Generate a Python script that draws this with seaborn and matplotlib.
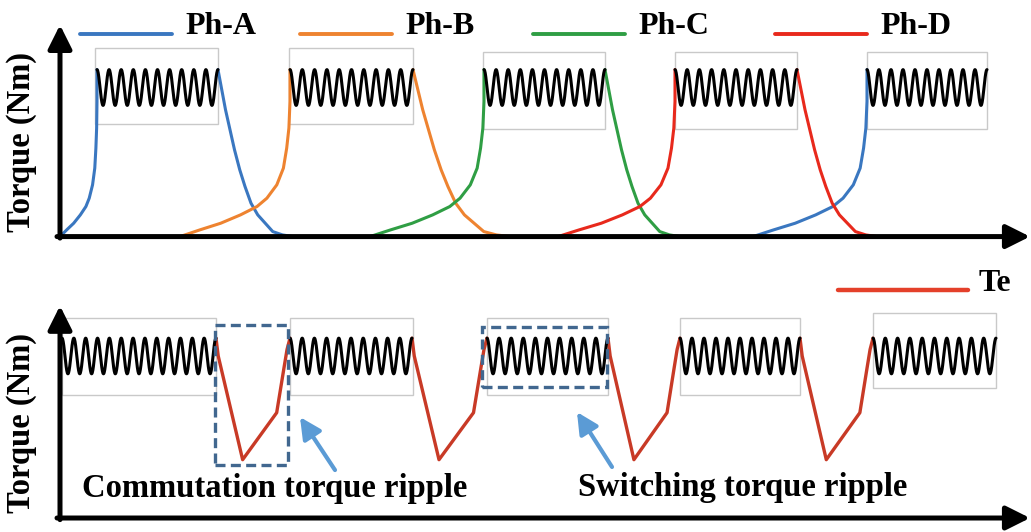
import numpy as np
import pandas as pd
import seaborn as sns
import matplotlib.pyplot as plt
from matplotlib.patches import Rectangle

# ---- data ----
phases = ["Ph-A", "Ph-B", "Ph-C", "Ph-D"]
phase_colors = ["#3a77c0", "#ee8330", "#2f9e44", "#e8291c"]

# top panel: phase torque (position in arbitrary angle units, torque in p.u.)
top_flat_start = [97, 290, 484, 675, 867]
top_flat_end = [218, 413, 605, 797, 987]
rise_start = [60, 180, 370, 558, 753]
fall_end = [293, 510, 680, 877]
rise_phase = ["Ph-A", "Ph-B", "Ph-C", "Ph-D", "Ph-A"]
fall_phase = ["Ph-A", "Ph-B", "Ph-C", "Ph-D"]

# normalised shapes of the rising / falling phase current edges
rise_x = [0, .18, .37, .55, .70, .79, .88, .94, .97, .99, 1.0, 1.0]
rise_y = [0, .04, .08, .13, .18, .23, .31, .41, .53, .65, .81, 1.0]
fall_x = [0, .05, .10, .16, .22, .29, .36, .44, .53, .63, .73, .86, 1.0]
fall_y = [1, .88, .76, .64, .52, .40, .30, .20, .13, .08, .03, .01, 0]

# bottom panel: total torque Te
bot_flat_start = [62, 290, 487, 680, 873]
bot_flat_end = [216, 412, 608, 800, 996]
dip_x = [0, .03, .36, .82, .92, .96, 1.0]
dip_y = [1.11, 1.0, 0.36, 0.65, 0.93, 1.04, 1.11]

ripple_mean = 1.0
top_ripple_amp = 0.12
bot_ripple_amp = 0.11
ripple_pitch = 12  # position units per ripple cycle

# ---- layout ----
W, H = 1031, 532
top_boxes = [(95, 218, .752, 1.268), (289, 413, .752, 1.268), (483, 605, .725, 1.235),
             (675, 797, .725, 1.235), (867, 987, .725, 1.235)]
bot_boxes = [(62, 216, .759, 1.235), (290, 413, .759, 1.235), (487, 608, .759, 1.235),
             (680, 800, .759, 1.235), (873, 996, .802, 1.265)]

sns.set_theme(style="white")
plt.rcParams["font.family"] = ["Liberation Serif", "DejaVu Serif"]
plt.rcParams["text.color"] = "black"

fig = plt.figure(figsize=(W / 100, H / 100), dpi=100)
ax_top = fig.add_axes([0, 1 - 250 / H, 1, 240 / H])
ax_bot = fig.add_axes([0, 1 - 530 / H, 1, 262 / H])
ax_top.set_xlim(0, W)
ax_top.set_ylim(-0.09, 1.52)
ax_bot.set_xlim(0, W)
ax_bot.set_ylim(-0.074, 1.543)
for ax in (ax_top, ax_bot):
    ax.axis("off")


def ripple_rows(starts, ends, amp, seg0):
    rows = []
    for i, (s, e) in enumerate(zip(starts, ends)):
        n = max(1, round((e - s) / ripple_pitch))
        xs = np.linspace(s, e, 40 * n)
        ys = ripple_mean + amp * np.cos(2 * np.pi * n * (xs - s) / (e - s))
        rows += [dict(pos=x, torque=y, seg=seg0 + i) for x, y in zip(xs, ys)]
    return rows


top_peak = ripple_mean + top_ripple_amp

# phase edges
rows = []
seg = 0
for s, e, ph in zip(rise_start, top_flat_start, rise_phase):
    for fx, fy in zip(rise_x, rise_y):
        rows.append(dict(pos=s + fx * (e - s), torque=fy * top_peak, phase=ph, seg=seg))
    seg += 1
for s, e, ph in zip(top_flat_end, fall_end, fall_phase):
    for fx, fy in zip(fall_x, fall_y):
        rows.append(dict(pos=s + fx * (e - s), torque=fy * top_peak, phase=ph, seg=seg))
    seg += 1
df_phase = pd.DataFrame(rows)

for (x0, x1, y0, y1) in top_boxes:
    ax_top.add_patch(Rectangle((x0, y0), x1 - x0, y1 - y0, fill=False,
                               ec="#c9c9c9", lw=1.0, zorder=1))

sns.lineplot(data=df_phase, x="pos", y="torque", hue="phase", units="seg",
             estimator=None, sort=False, palette=dict(zip(phases, phase_colors)),
             lw=2.2, legend=False, ax=ax_top, zorder=3)
df_rip_top = pd.DataFrame(ripple_rows(top_flat_start, top_flat_end, top_ripple_amp, 0))
sns.lineplot(data=df_rip_top, x="pos", y="torque", units="seg", estimator=None,
             sort=False, color="black", lw=2.2, ax=ax_top, zorder=4)

# legend for phases
leg_line_x = [80, 300, 533, 775]
for ph, c, lx in zip(phases, phase_colors, leg_line_x):
    ax_top.plot([lx, lx + 92], [1.356, 1.356], color=c, lw=2.8, clip_on=False)
    ax_top.text(lx + 105, 1.41, ph, fontsize=23, fontweight="bold", va="center", ha="left")

# bottom: Te
rows = []
for i in range(len(bot_flat_end) - 1):
    s, e = bot_flat_end[i], bot_flat_start[i + 1]
    for fx, fy in zip(dip_x, dip_y):
        rows.append(dict(pos=s + fx * (e - s), torque=fy, seg=i))
df_dip = pd.DataFrame(rows)

for (x0, x1, y0, y1) in bot_boxes:
    ax_bot.add_patch(Rectangle((x0, y0), x1 - x0, y1 - y0, fill=False,
                               ec="#c9c9c9", lw=1.0, zorder=1))

sns.lineplot(data=df_dip, x="pos", y="torque", units="seg", estimator=None,
             sort=False, color="#c83a26", lw=2.4, ax=ax_bot, zorder=3)
df_rip_bot = pd.DataFrame(ripple_rows(bot_flat_start, bot_flat_end, bot_ripple_amp, 0))
sns.lineplot(data=df_rip_bot, x="pos", y="torque", units="seg", estimator=None,
             sort=False, color="black", lw=2.2, ax=ax_bot, zorder=4)

ax_bot.plot([838, 968], [1.407, 1.407], color="#e4402a", lw=3.2, clip_on=False)
ax_bot.text(979, 1.45, "Te", fontsize=23, fontweight="bold", va="center", ha="left")

# highlighted regions
dash_col = "#41678f"
ax_bot.add_patch(Rectangle((215, 0.327), 73, 0.864, fill=False, ec=dash_col, lw=2.4,
                           ls=(0, (3, 1.6)), zorder=5))
ax_bot.add_patch(Rectangle((482, 0.809), 125, 0.37, fill=False, ec=dash_col, lw=2.4,
                           ls=(0, (3, 1.6)), zorder=5))
arrow_kw = dict(arrowstyle="-|>", color="#5b9bd5", lw=3, mutation_scale=32,
                shrinkA=0, shrinkB=0)
ax_bot.annotate("", xy=(300, 0.623), xytext=(335, 0.296), arrowprops=arrow_kw)
ax_bot.annotate("", xy=(577, 0.654), xytext=(612, 0.315), arrowprops=arrow_kw)
ax_bot.text(82, 0.185, "Commutation torque ripple", fontsize=23.5, fontweight="bold",
            va="center", ha="left")
ax_bot.text(578, 0.19, "Switching torque ripple", fontsize=23.5, fontweight="bold",
            va="center", ha="left")

# axes drawn as arrows
axis_kw = dict(arrowstyle="-|>", color="black", lw=3.6, mutation_scale=36,
               shrinkA=0, shrinkB=0)
for ax, ytop in ((ax_top, 1.42), (ax_bot, 1.31)):
    ax.annotate("", xy=(60, ytop), xytext=(60, -0.01), arrowprops=axis_kw, zorder=6)
    ax.annotate("", xy=(1030, 0), xytext=(57, 0), arrowprops=axis_kw, zorder=6,
                annotation_clip=False)

fig.text(22 / W, 1 - 142 / H, "Torque (Nm)", rotation=90, fontsize=23.5,
         fontweight="bold", ha="center", va="center")
fig.text(22 / W, 1 - 423 / H, "Torque (Nm)", rotation=90, fontsize=23.5,
         fontweight="bold", ha="center", va="center")

fig.savefig("out.png", dpi=100)
